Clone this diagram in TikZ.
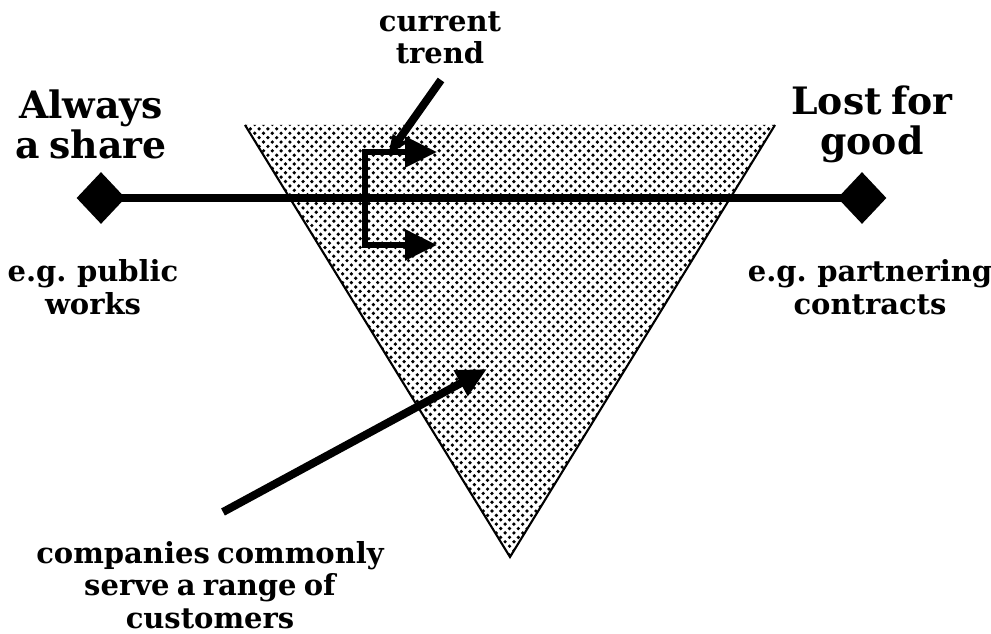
\documentclass[tikz,border=0pt]{standalone}
\usepackage{fontspec}
\setmainfont{DejaVu Serif}
\usetikzlibrary{positioning,shapes.geometric,patterns,arrows.meta}
\pgfdeclarepatternformonly{halftone}{\pgfpoint{-1.5pt}{-1.5pt}}{\pgfpoint{6.5pt}{6.5pt}}{\pgfpoint{5pt}{5pt}}{%
  \pgfpathcircle{\pgfpoint{0pt}{0pt}}{1.05pt}%
  \pgfpathcircle{\pgfpoint{2.5pt}{2.5pt}}{1.05pt}%
  \pgfusepath{fill}}
\newcommand{\tightwords}{\spaceskip=0.25em\relax}

\begin{document}
\begin{tikzpicture}[x=0.02cm,y=-0.02cm,
    bigtxt/.style={font=\bfseries\fontsize{21.5}{22.8}\selectfont\tightwords,align=center},
    smalltxt/.style={font=\bfseries\fontsize{16.5}{18.6}\selectfont\tightwords,align=center},
    endmark/.style={diamond,fill=black,inner sep=0pt,minimum width=0.98cm,minimum height=1.04cm},
    pointer/.style={line width=0.16cm,-{Triangle[length=0.6cm,width=0.55cm]}}]
    \useasboundingbox (0,0) rectangle (991,634);
    \fill[pattern=halftone] (245,125) -- (775,125) -- (510,557) -- cycle;
    \draw[line width=1.2pt] (245,125) -- (510,557) -- (775,125);
    \node[endmark] (share) at (101,198) {};
    \node[endmark] (lost) at (862,198) {};
    \draw[line width=0.16cm] (share.center) -- (lost.center);
    \node[bigtxt] (sharelbl) at (91,124) {Always\\a share};
    \node[bigtxt] (lostlbl) at (872,124) {Lost for\\good};
    \node[smalltxt] (publbl) at (93,287) {e.g. public\\works};
    \node[smalltxt] (partlbl) at (870,287) {e.g. partnering\\contracts};
    \node[smalltxt] (trendlbl) at (440,38) {current\\trend};
    \node[smalltxt] (custlbl) at (210,585) {companies commonly\\serve a range of\\customers};
    \coordinate (trtop) at (437,152);
    \coordinate (trbot) at (437,245);
    \coordinate (brtop) at (365,152);
    \coordinate (brbot) at (365,245);
    \draw[line width=0.12cm,{Triangle[length=0.64cm,width=0.6cm]}-{Triangle[length=0.64cm,width=0.6cm]}]
      (trtop) -- (brtop) -- (brbot) -- (trbot);
    \coordinate (trfrom) at (441,80);
    \coordinate (trto) at (388,155);
    \draw[line width=0.16cm,-{Triangle[length=0.4cm,width=0.3cm]}] (trfrom) -- (trto);
    \coordinate (custfrom) at (223,512);
    \coordinate (custto) at (487,369);
    \draw[pointer] (custfrom) -- (custto);
\end{tikzpicture}
\end{document}
